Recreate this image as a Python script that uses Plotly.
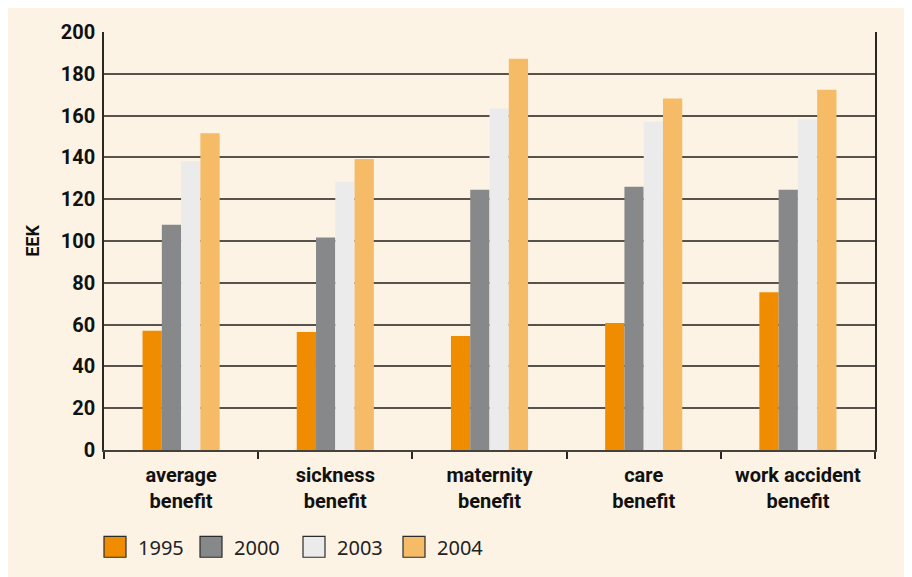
import plotly.graph_objects as go

# data
categories = ["average<br>benefit", "sickness<br>benefit", "maternity<br>benefit",
              "care<br>benefit", "work accident<br>benefit"]
years = ["1995", "2000", "2003", "2004"]
v1995 = [57, 56.5, 54.5, 60.8, 75.5]
v2000 = [107.8, 101.7, 124.5, 125.9, 124.5]
v2003 = [138.2, 128.3, 163.4, 157.2, 158.2]
v2004 = [151.5, 139.2, 187.2, 168.2, 172.4]
series = [v1995, v2000, v2003, v2004]
colors = ["#f08c00", "#87888a", "#ebebeb", "#f5bb66"]

BG = "#fdf3e4"
GRID = "#57524b"
AXIS = "#2a2623"
# page body adds an 8px offset, so the figure is drawn 8px smaller
W, H = 904, 569
L, R, T, B = 96, 867, 21, 442  # plot area in figure pixels


def px_x(p):
    return (p - L) / (R - L)


def px_y(p):
    return (B - p) / (B - T)


fig = go.Figure()
for name, vals, col in zip(years, series, colors):
    fig.add_trace(go.Bar(x=categories, y=vals, name=name, marker=dict(color=col, line=dict(width=0)),
                         showlegend=False))

shapes = []
annotations = []

# hand-made legend with large swatches
legend_x = [96, 192, 295, 395]
for i, (name, col) in enumerate(zip(years, colors)):
    x0 = legend_x[i]
    shapes.append(dict(type="rect", xref="paper", yref="paper",
                       x0=px_x(x0), x1=px_x(x0 + 22), y0=px_y(550), y1=px_y(529),
                       fillcolor=col, line=dict(color="#2b2b2b", width=1.2)))
    annotations.append(dict(xref="paper", yref="paper", x=px_x(x0 + 32), y=px_y(540),
                            text=name, showarrow=False, xanchor="left", yanchor="middle",
                            font=dict(family="Noto Sans", size=20, color="#222222")))

fig.update_layout(
    width=W, height=H,
    margin=dict(l=L, r=W - R, t=T, b=H - B),
    paper_bgcolor=BG,
    plot_bgcolor=BG,
    barmode="group",
    bargap=0.5,
    bargroupgap=0,
    shapes=shapes,
    annotations=annotations,
    font=dict(family="Roboto", color="#111111"),
    xaxis=dict(
        showline=True, linecolor="#45413c", linewidth=2,
        ticks="outside", tickson="boundaries", ticklen=7, tickcolor=AXIS, tickwidth=1.5,
        ticklabelstandoff=6,
        tickfont=dict(family="Roboto", size=20, color="#111111", weight="bold"),
        showgrid=False,
    ),
    yaxis=dict(
        range=[0, 200], dtick=20,
        showline=True, mirror=True, linecolor=AXIS, linewidth=1.6,
        showgrid=True, gridcolor=GRID, gridwidth=2,
        zeroline=False,
        ticks="", ticklabelstandoff=3,
        tickfont=dict(family="Roboto", size=20, color="#111111", weight="bold"),
        title=dict(text="EEK", standoff=16,
                   font=dict(family="Roboto", size=18, color="#111111", weight="bold")),
    ),
)

fig.write_html("out.html")
